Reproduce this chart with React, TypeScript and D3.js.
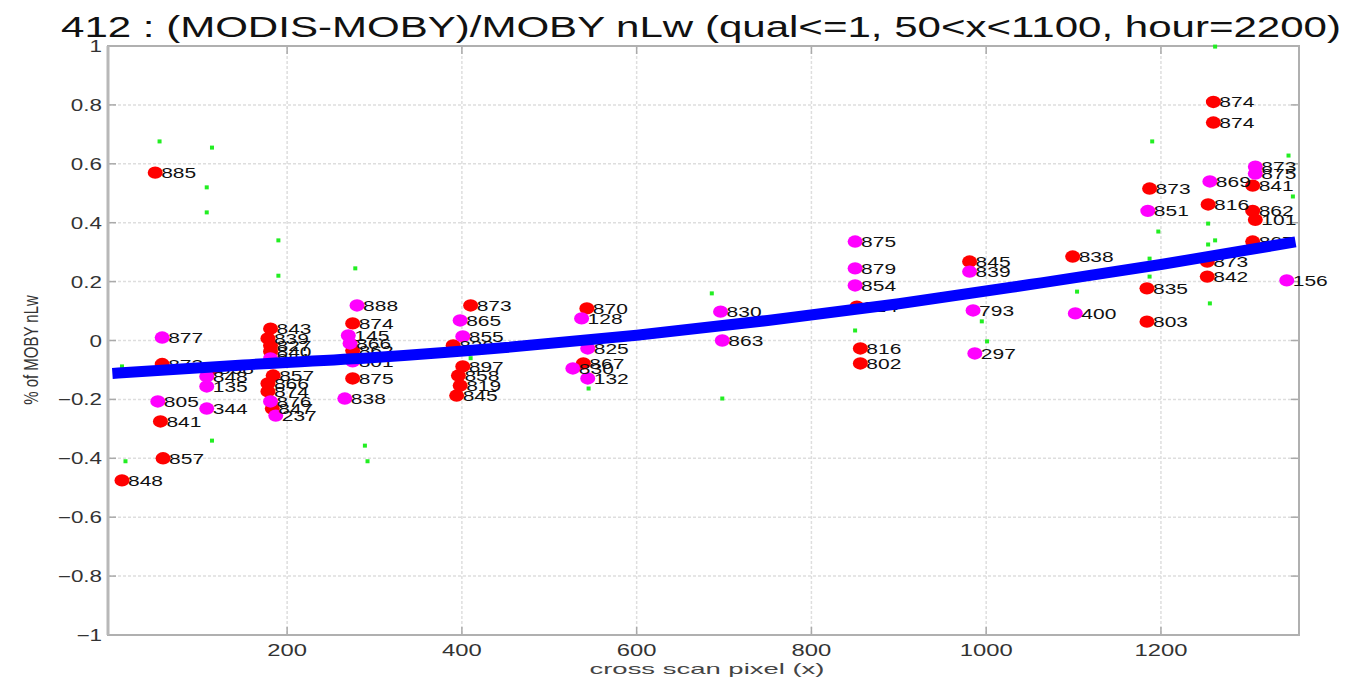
import React from "react";
import * as d3 from "d3";

// Axis ticks
const xTicks = [200, 400, 600, 800, 1000, 1200];
const yTicks = [1, 0.8, 0.6, 0.4, 0.2, 0, -0.2, -0.4, -0.6, -0.8, -1];
const yTickLabels = ["1", "0.8", "0.6", "0.4", "0.2", "0", "\u22120.2", "\u22120.4", "\u22120.6", "\u22120.8", "\u22121"];

// Matchups flagged red: [cross scan pixel, relative difference, day label]
const redPoints: [number, number, string][] = [
  [11, -0.475, "848"],
  [49, 0.57, "885"],
  [57, -0.08, "873"],
  [55, -0.275, "841"],
  [58, -0.4, "857"],
  [115, -0.095, "868"],
  [181, 0.04, "843"],
  [178, 0.007, "839"],
  [181, -0.017, "827"],
  [181, -0.037, "840"],
  [184, -0.119, "857"],
  [178, -0.146, "866"],
  [178, -0.173, "874"],
  [183, -0.231, "847"],
  [275, 0.058, "874"],
  [275, -0.034, "862"],
  [275, -0.129, "875"],
  [410, 0.119, "873"],
  [390, -0.017, "829"],
  [401, -0.088, "897"],
  [396, -0.119, "858"],
  [398, -0.153, "819"],
  [394, -0.187, "845"],
  [543, 0.109, "870"],
  [539, -0.078, "867"],
  [852, 0.115, "814"],
  [856, -0.027, "816"],
  [856, -0.078, "802"],
  [981, 0.268, "845"],
  [1099, 0.285, "838"],
  [1187, 0.516, "873"],
  [1184, 0.177, "835"],
  [1184, 0.064, "803"],
  [1260, 0.81, "874"],
  [1260, 0.74, "874"],
  [1254, 0.462, "816"],
  [1253, 0.268, "873"],
  [1253, 0.217, "842"],
  [1305, 0.526, "841"],
  [1305, 0.44, "862"],
  [1308, 0.41, "101"],
  [1305, 0.336, "867"],
];

// Matchups flagged magenta
const magentaPoints: [number, number, string][] = [
  [57, 0.01, "877"],
  [52, -0.207, "805"],
  [108, -0.122, "848"],
  [108, -0.156, "135"],
  [108, -0.231, "344"],
  [181, -0.061, "851"],
  [181, -0.207, "876"],
  [187, -0.255, "237"],
  [280, 0.119, "888"],
  [270, 0.017, "145"],
  [272, -0.01, "866"],
  [275, -0.071, "801"],
  [266, -0.197, "838"],
  [398, 0.068, "865"],
  [401, 0.014, "855"],
  [537, 0.075, "128"],
  [544, -0.027, "825"],
  [527, -0.095, "830"],
  [544, -0.129, "132"],
  [696, 0.098, "830"],
  [698, 0.0, "863"],
  [850, 0.336, "875"],
  [850, 0.245, "879"],
  [850, 0.187, "854"],
  [981, 0.234, "839"],
  [985, 0.102, "793"],
  [987, -0.044, "297"],
  [1102, 0.092, "400"],
  [1185, 0.44, "851"],
  [1256, 0.54, "869"],
  [1308, 0.59, "873"],
  [1308, 0.567, "875"],
  [1344, 0.204, "156"],
];

// Individual pixel values
const greenPoints: [number, number][] = [
  [54, 0.676], [114, 0.655], [108, 0.52], [108, 0.435], [190, 0.34], [190, 0.22],
  [11, -0.088], [114, -0.34], [15, -0.41], [278, 0.245], [289, -0.357], [292, -0.41],
  [545, -0.163], [410, -0.06], [686, 0.16], [698, -0.197], [850, 0.034], [995, 0.065],
  [1001, -0.003], [1104, 0.166], [1190, 0.676], [1346, 0.628], [1351, 0.489], [1197, 0.37],
  [1254, 0.397], [1262, 0.34], [1254, 0.326], [1187, 0.278], [1187, 0.217], [1256, 0.126],
  [1262, 0.998],
];

// Trend across the scan
const fitLine: [number, number][] = [
  [0, -0.112], [150, -0.083], [300, -0.058], [450, -0.024], [600, 0.018],
  [750, 0.068], [900, 0.125], [1050, 0.19], [1200, 0.258], [1354, 0.335],
];

const W = 1354;
const H = 680;
const L = 108, R = 1299, T = 46, B = 635;
const FONT = "'Liberation Sans', Arial, Helvetica, sans-serif";
const SX = 1.4;

const x = d3.scaleLinear().domain([-5, 1358]).range([L, R]);
const y = d3.scaleLinear().domain([-1, 1]).range([B, T]);

function Label({ px, py, size, anchor = "start", sx = SX, fill = "#222", children }: any) {
  return (
    <text
      transform={`translate(${px},${py}) scale(${sx},1)`}
      textAnchor={anchor}
      fontSize={size}
      fill={fill}
      fontFamily={FONT}
    >
      {children}
    </text>
  );
}

export default function App() {
  const line = d3
    .line<[number, number]>()
    .x((d) => x(d[0]))
    .y((d) => y(d[1]))
    .curve(d3.curveMonotoneX);

  const marker = (p: [number, number, string], color: string, i: number) => (
    <ellipse key={color + i} cx={x(p[0])} cy={y(p[1])} rx={7.5} ry={6.2} fill={color} />
  );
  const tag = (p: [number, number, string], i: number, k: string) => (
    <Label key={k + i} px={x(p[0]) + 6} py={y(p[1]) + 5.5} size={15} fill="#111">
      {p[2]}
    </Label>
  );

  return (
    <svg
      width={W}
      height={H}
      style={{ position: "absolute", left: 0, top: 0, background: "#fff" }}
    >
      <rect x={0} y={0} width={W} height={H} fill="#fff" />
      {/* grid */}
      {xTicks.map((t) => (
        <line key={"gx" + t} x1={x(t)} x2={x(t)} y1={T} y2={B} stroke="#dedede" strokeWidth={1.5} strokeDasharray="3,2" />
      ))}
      {yTicks.slice(1, -1).map((t) => (
        <line key={"gy" + t} x1={L} x2={R} y1={y(t)} y2={y(t)} stroke="#dedede" strokeWidth={1.5} strokeDasharray="3,2" />
      ))}
      {/* ticks */}
      {xTicks.map((t) => (
        <g key={"tx" + t}>
          <line x1={x(t)} x2={x(t)} y1={B} y2={B - 8} stroke="#aaa" strokeWidth={1.5} />
          <line x1={x(t)} x2={x(t)} y1={T} y2={T + 8} stroke="#aaa" strokeWidth={1.5} />
        </g>
      ))}
      {yTicks.map((t) => (
        <g key={"ty" + t}>
          <line x1={L} x2={L + 8} y1={y(t)} y2={y(t)} stroke="#aaa" strokeWidth={1.5} />
          <line x1={R} x2={R - 8} y1={y(t)} y2={y(t)} stroke="#aaa" strokeWidth={1.5} />
        </g>
      ))}
      {/* axes box */}
      <rect x={L} y={T} width={R - L} height={B - T} fill="none" stroke="#b0b0b0" strokeWidth={2} />
      <line x1={L} x2={L} y1={T} y2={B} stroke="#b8b8b8" strokeWidth={3} />

      {/* tick labels */}
      {yTicks.map((t, i) => (
        <Label key={"ly" + t} px={102} py={y(t) + 6} size={16} anchor="end" fill="#333">
          {yTickLabels[i]}
        </Label>
      ))}
      {xTicks.map((t) => (
        <Label key={"lx" + t} px={x(t)} py={656} size={17} anchor="middle" fill="#333">
          {t}
        </Label>
      ))}

      {/* points */}
      {greenPoints.map((p, i) => (
        <rect key={"g" + i} x={x(p[0]) - 2} y={y(p[1]) - 2} width={4} height={4} fill="#22ee22" />
      ))}
      {redPoints.map((p, i) => marker(p, "#ff0000", i))}
      {magentaPoints.map((p, i) => marker(p, "#ff00ff", i))}
      {redPoints.map((p, i) => tag(p, i, "rt"))}
      {magentaPoints.map((p, i) => tag(p, i, "mt"))}

      {/* trend */}
      <path d={line(fitLine) || ""} fill="none" stroke="#0000ff" strokeWidth={11} />

      {/* titles */}
      <text
        x={701}
        y={37}
        textAnchor="middle"
        fontSize={30}
        fontFamily={FONT}
        fill="#111"
        textLength={1280}
        lengthAdjust="spacingAndGlyphs"
      >
        412 : (MODIS-MOBY)/MOBY nLw (qual&lt;=1, 50&lt;x&lt;1100, hour=2200)
      </text>
      <text
        x={707}
        y={674}
        textAnchor="middle"
        fontSize={15}
        fontFamily={FONT}
        fill="#444"
        textLength={235}
        lengthAdjust="spacingAndGlyphs"
      >
        cross scan pixel (x)
      </text>
      <text
        transform={`translate(38,350) scale(1.4,1) rotate(-90)`}
        textAnchor="middle"
        fontSize={15}
        fontFamily={FONT}
        fill="#333"
      >
        % of MOBY nLw
      </text>
    </svg>
  );
}
